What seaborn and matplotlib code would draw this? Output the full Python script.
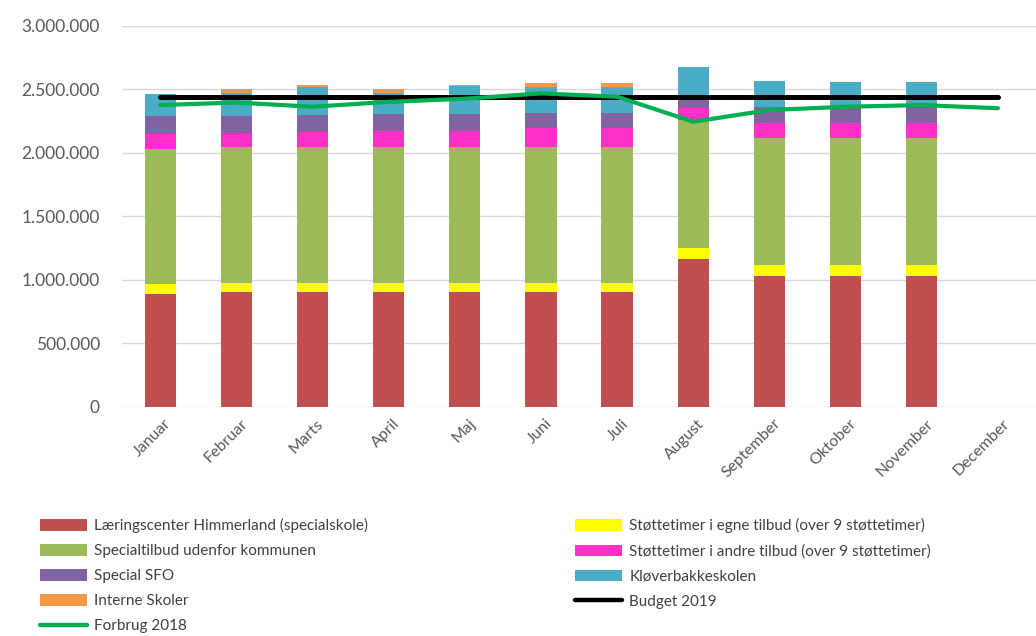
import numpy as np
import pandas as pd
import matplotlib
matplotlib.use("Agg")
import matplotlib.pyplot as plt
import matplotlib.transforms as mtransforms
from matplotlib.patches import Patch
from matplotlib.lines import Line2D
from matplotlib.ticker import FuncFormatter
import seaborn as sns

# data
months = ["Januar", "Februar", "Marts", "April", "Maj", "Juni", "Juli",
          "August", "September", "Oktober", "November", "December"]

laeringscenter = [887000, 903000, 903000, 903000, 903000, 903000, 903000,
                  1161000, 1029000, 1029000, 1029000, 0]
stotte_egne = [77000, 74000, 74000, 74000, 74000, 74000, 74000,
               86000, 89000, 89000, 89000, 0]
specialtilbud = [1063000, 1065000, 1065000, 1065000, 1065000, 1065000, 1065000,
                 1010000, 995000, 995000, 995000, 0]
stotte_andre = [120000, 115000, 123000, 129000, 129000, 150000, 150000,
                93000, 118000, 118000, 118000, 0]
special_sfo = [142000, 132000, 132000, 131000, 131000, 118000, 123000,
               90000, 131000, 131000, 135000, 0]
kloverbakke = [171000, 179000, 223000, 166000, 226000, 210000, 205000,
               232000, 205000, 192000, 192000, 0]
interne = [4000, 31000, 13000, 33000, 5000, 26000, 26000,
           0, 0, 0, 0, 0]

budget_2019 = [2440000] * 12
forbrug_2018 = [2375000, 2395000, 2362000, 2400000, 2425000, 2467000, 2441000,
                2244000, 2336000, 2362000, 2375000, 2350000]

# stack order bottom -> top
layers = [
    ("Læringscenter Himmerland (specialskole)", laeringscenter, "#C0504D"),
    ("Støttetimer i egne tilbud (over 9 støttetimer)", stotte_egne, "#FFFF00"),
    ("Specialtilbud udenfor kommunen", specialtilbud, "#9BBB59"),
    ("Støttetimer i andre tilbud (over 9 støttetimer)", stotte_andre, "#FF2FC8"),
    ("Special SFO", special_sfo, "#8064A2"),
    ("Kløverbakkeskolen", kloverbakke, "#4BACC6"),
    ("Interne Skoler", interne, "#F79646"),
]

sns.set_theme(style="white")
plt.rcParams["font.family"] = ["Lato", "DejaVu Sans"]
text_col = "#595959"

fig = plt.figure(figsize=(10.36, 6.36), dpi=100)
ax = fig.add_axes([0.1178, 0.3605, 0.8822, 0.5991])

# stacked bars: draw cumulative totals from the top layer down
cum = np.cumsum([np.array(v, dtype=float) for _, v, _ in layers], axis=0)
for i in range(len(layers) - 1, -1, -1):
    df = pd.DataFrame({"month": months, "value": cum[i]})
    sns.barplot(data=df, x="month", y="value", color=layers[i][2],
                width=0.41, saturation=1, ax=ax, linewidth=0, zorder=2)

x = np.arange(len(months))
sns.lineplot(x=x, y=budget_2019, color="black", linewidth=3.6, ax=ax, zorder=4)
sns.lineplot(x=x, y=forbrug_2018, color="#00B050", linewidth=3.0, ax=ax, zorder=5)

ax.set_xlim(-0.5, 11.5)
ax.set_ylim(0, 3000000)
ax.set_yticks(np.arange(0, 3000001, 500000))
ax.yaxis.set_major_formatter(FuncFormatter(lambda v, p: f"{int(v):,}".replace(",", ".")))
ax.grid(axis="y", color="#D9D9D9", linewidth=1.0, zorder=0)
ax.set_axisbelow(True)
for s in ax.spines.values():
    s.set_visible(False)
ax.set_xlabel("")
ax.set_ylabel("")
ax.tick_params(axis="y", length=0, pad=16, labelsize=12.5, labelcolor=text_col)
ax.tick_params(axis="x", length=0, pad=7, labelsize=11.5, labelcolor=text_col)
ax.set_xticks(x)
ax.set_xticklabels(months, rotation=45, ha="right", rotation_mode="anchor")
offset = mtransforms.ScaledTranslation(4 / 100, 0, fig.dpi_scale_trans)
for lab in ax.get_xticklabels():
    lab.set_transform(lab.get_transform() + offset)

# legend, two columns like the reference
def handle(color, kind):
    if kind == "bar":
        return Patch(facecolor=color, edgecolor="none")
    return Line2D([0], [0], color=color, linewidth=3.2)

left = [(layers[0][0], layers[0][2], "bar"), (layers[2][0], layers[2][2], "bar"),
        (layers[4][0], layers[4][2], "bar"), (layers[6][0], layers[6][2], "bar"),
        ("Forbrug 2018", "#00B050", "line")]
right = [(layers[1][0], layers[1][2], "bar"), (layers[3][0], layers[3][2], "bar"),
         (layers[5][0], layers[5][2], "bar"), ("Budget 2019", "black", "line")]

for items, xpos in [(left, 0.0386), (right, 0.555)]:
    fig.legend([handle(c, k) for _, c, k in items], [n for n, _, _ in items],
               loc="upper left", bbox_to_anchor=(xpos, 0.185), frameon=False,
               fontsize=11, labelcolor="#404040", handlelength=3.1,
               handleheight=0.75, handletextpad=0.45, labelspacing=0.72,
               borderaxespad=0, borderpad=0)

fig.savefig("out.png", dpi=100)
